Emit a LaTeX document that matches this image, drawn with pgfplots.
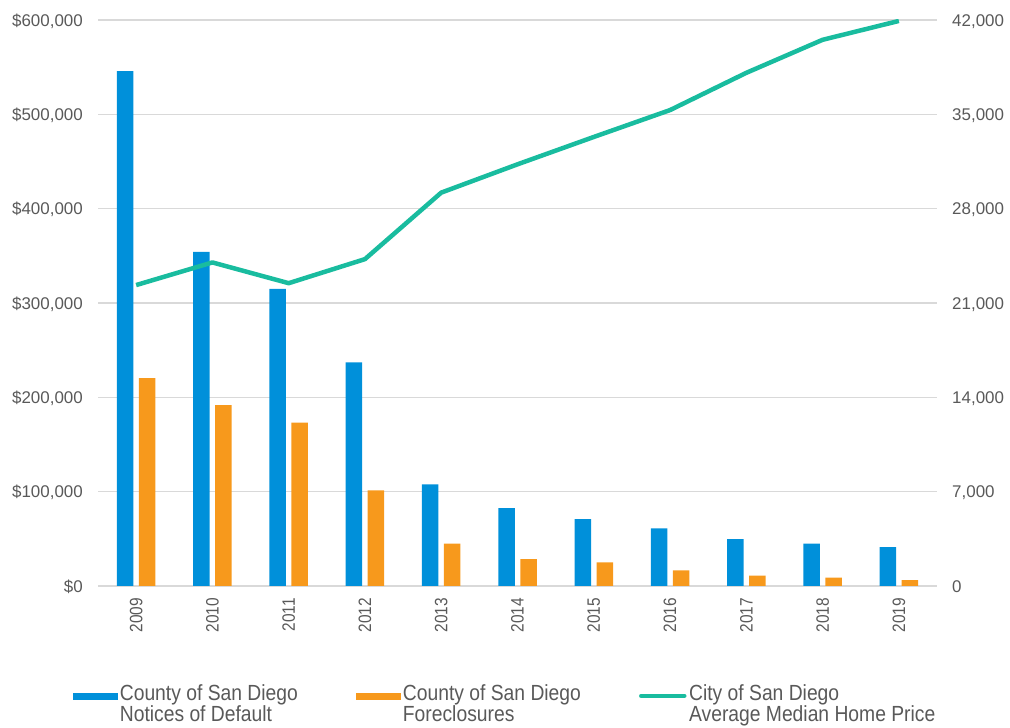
\documentclass[border=0pt]{standalone}
\usepackage{pgfplots}
\usepackage{pgfplotstable}
\pgfplotsset{compat=1.18}
\usepackage{fontspec}
\setmainfont{Liberation Sans}
\newfontfamily\narrowfont[FakeStretch=0.86]{Liberation Sans}
\newfontfamily\legendfont[FakeStretch=0.88]{Liberation Sans}

\definecolor{ndblue}{HTML}{0090DA}
\definecolor{fcorange}{HTML}{F7991C}
\definecolor{priceteal}{HTML}{19BC9F}
\definecolor{labelgray}{HTML}{595959}
\definecolor{gridgray}{HTML}{D9D9D9}

% idx: 0 = 2009 ... 10 = 2019
% nod = notices of default, fc = foreclosures (county), price = median home price (city)
\pgfplotstableread{
idx nod   fc    price
0   38200 15430 319000
1   24800 13430 343000
2   22050 12120 321000
3   16600 7100  346500
4   7550  3140  417000
5   5770  2000  447000
6   4970  1760  476000
7   4280  1165  504500
8   3470  765   544000
9   3140  620   579000
10  2890  445   599000
}\sddata

\pgfplotsset{
  sdframe/.style={
    at={(98bp,142bp)}, anchor=south west,
    scale only axis, width=839bp, height=566bp,
    xmin=-0.5, xmax=10.5,
    scaled y ticks=false, scaled x ticks=false,
    axis line style={draw=none},
    major tick length=0pt,
    tick style={draw=none},
    tick label style={text=labelgray},
    yticklabel shift=15bp,
  }
}

\begin{document}
\begin{tikzpicture}
\useasboundingbox (0,0) rectangle (1010bp,728bp);

% counts on the right-hand scale, drawn as paired bars
\begin{axis}[sdframe,
  ymin=0, ymax=42000,
  ytick={0,7000,14000,21000,28000,35000,42000},
  yticklabels={0,{7,000},{14,000},{21,000},{28,000},{35,000},{42,000}},
  axis y line*=right,
  xtick=\empty,
  ymajorgrids,
  grid style={gridgray, line width=1.2bp},
  yticklabel style={font=\fontsize{17}{17}\selectfont, anchor=base west, inner sep=0pt, yshift=-6.1bp},
  ybar=5.5bp, bar width=16.5bp,
]
\addplot[fill=ndblue, draw=none] table[x=idx, y=nod]{\sddata};
\addplot[fill=fcorange, draw=none] table[x=idx, y=fc]{\sddata};
\end{axis}

% home price on the left-hand scale
\begin{axis}[sdframe,
  ymin=0, ymax=600000,
  ytick={0,100000,200000,300000,400000,500000,600000},
  yticklabels={{\$0},{\$100,000},{\$200,000},{\$300,000},{\$400,000},{\$500,000},{\$600,000}},
  axis y line*=left,
  xtick={0,1,2,3,4,5,6,7,8,9,10},
  xticklabels={2009,2010,2011,2012,2013,2014,2015,2016,2017,2018,2019},
  xticklabel shift=12bp,
  xticklabel style={rotate=90, anchor=east, inner sep=0pt, font=\narrowfont\fontsize{18}{18}\selectfont},
  yticklabel style={font=\fontsize{17}{17}\selectfont, anchor=base east, inner sep=0pt, yshift=-6.1bp},
  legend columns=3,
  legend cell align=left,
  legend style={
    draw=none, fill=none, inner sep=0pt,
    at={(axis description cs:-0.0302,-0.173)}, anchor=north west,
    column sep=0pt, row sep=0pt,
    /tikz/every odd column/.style={column sep=0pt},
    /tikz/every even column/.style={column sep=55.5bp},
    nodes={anchor=base west, align=left,
           inner xsep=2.6bp, inner ysep=0pt, text=labelgray,
           font=\legendfont\fontsize{22}{21.7}\selectfont},
  },
]
% swatches sit beside the first of the two text lines
\addlegendimage{legend image code/.code={\fill[ndblue] (0bp,22.7bp) rectangle (44bp,28.7bp);}}
\addlegendentry{County of San Diego\\Notices of Default}
\addlegendimage{legend image code/.code={\fill[fcorange] (0bp,22.7bp) rectangle (44bp,28.7bp);}}
\addlegendentry{County of San Diego\\Foreclosures}
\addplot[priceteal, line width=4.5bp, line join=round,
  legend image code/.code={\draw[priceteal, line width=4.5bp, line cap=round] (2bp,25.7bp) -- (45bp,25.7bp);}]
  table[x=idx, y=price]{\sddata};
\addlegendentry{City of San Diego\\Average Median Home Price}
\end{axis}
\end{tikzpicture}
\end{document}
